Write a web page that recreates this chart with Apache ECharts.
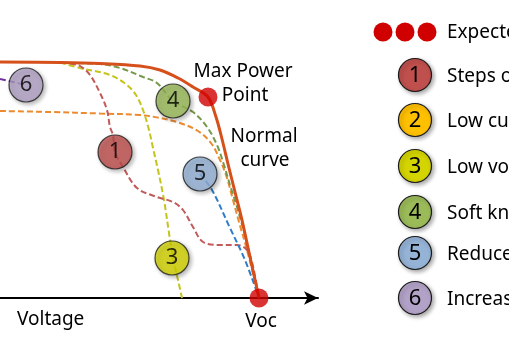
<!DOCTYPE html>
<html><head><meta charset="utf-8">
<script src="https://cdn.jsdelivr.net/npm/echarts@6/dist/echarts.min.js"></script>
<style>html,body{margin:0;padding:0;background:#fff}#c{width:509px;height:337px}</style>
</head><body><div id="c"></div>
<script>
// Voltage (x) / current (y) in arbitrary units
const normalX = [0,60,100,140,160,178,193,208,216,222,228,235,242,250,259];
const normalY = [236,235.5,234.5,232,228,220,211,201,181,159,134,106,78,41,0];
const stepsX = [70,80,90,100,107,110,113,115,123,137,157,173,183,193,203,220,237,247,252,259];
const stepsY = [234.5,232,223,205,188,171,163,146,131,110,101,96,88,71,56,53,53,48,36,0];
const lowCurX = [0,50,100,140,160,180,198,211,220,227,233,239,247,259];
const lowCurY = [187,186,184.5,183,180,175,167,155,138,120,98,76,48,0];
const lowVoltX = [60,80,110,127,136,143,149,153,158,164,169,173,178,182];
const lowVoltY = [235.5,230,223,213,203,188,168,150,128,98,65,40,18,0];
const softKneeX = [60,100,120,143,157,173,193,207,217,224,230,237,246,259];
const softKneeY = [235,234,230,221,215,197,186,171,153,133,113,91,58,0];
const slopeX = [200,212,230,245,259];
const slopeY = [124,108,70,38,0];
const incSlopeX = [0,26];
const incSlopeY = [219,213];
const markerNums = ['6','4','1','5','3'];
const markerX = [26,173,115,200,172];
const markerY = [213,197,146,124,40];
const expectedX = [208,259];
const expectedY = [201,0];
const legendNums = ['1','2','3','4','5','6'];
const legendTexts = ['Steps or notches','Low current','Low voltage','Soft knee','Reduced slope','Increased slope'];
const expectedText = 'Expected values';

const fillColors = {'1':'#c0504d','2':'#ffc000','3':'#d4d400','4':'#9bbb59','5':'#95b3d7','6':'#b3a2c7'};
const FONT = '"Noto Sans", "DejaVu Sans", sans-serif';
const zip = (xs, ys) => xs.map((x,i)=>[x, ys[i]]);
const shadow = {shadowBlur:4, shadowOffsetX:2, shadowOffsetY:2, shadowColor:'rgba(0,0,0,0.35)'};

function dashed(name, xs, ys, color){
  return {type:'line', name, data: zip(xs,ys), smooth:0.35, symbol:'none', z:2,
    lineStyle:{color, width:2, type:[6,3]}};
}

const series = [
  dashed('Increased slope', incSlopeX, incSlopeY, '#7030a0'),
  dashed('Low current', lowCurX, lowCurY, '#ec8a2e'),
  dashed('Low voltage', lowVoltX, lowVoltY, '#c4c41c'),
  dashed('Soft knee', softKneeX, softKneeY, '#76984a'),
  dashed('Steps', stepsX, stepsY, '#c25a5a'),
  dashed('Reduced slope', slopeX, slopeY, '#2f7cc8'),
  {type:'line', name:'Normal', data: zip(normalX, normalY), smooth:0.35, symbol:'none', z:3,
    lineStyle:{color:'#d6501c', width:3}},
  {type:'scatter', name:'markers', z:5, symbolSize:34,
    data: markerNums.map((n,i)=>({value:[markerX[i], markerY[i]], itemStyle:{color:fillColors[n]}, label:{formatter:n}})),
    itemStyle:Object.assign({borderColor:'#1a1a1a', borderWidth:1.2}, shadow),
    label:{show:true, position:'inside', color:'#000', fontSize:22, fontFamily:FONT}},
  {type:'scatter', name:'expected', z:6, symbolSize:19, data: zip(expectedX, expectedY),
    itemStyle:{color:'#d10000'}}
];

const graphic = [];
const txt = (x,y,text,size,align) => ({type:'text', x, y, style:{text, font:size+'px '+FONT, fill:'#000', textAlign:align||'left', textVerticalAlign:'middle'}});
graphic.push(txt(243,72,'Max Power',19,'center'));
graphic.push(txt(245,96,'Point',19,'center'));
graphic.push(txt(264,137,'Normal',19,'center'));
graphic.push(txt(265,161,'curve',19,'center'));
graphic.push(txt(17,320,'Voltage',19,'left'));
graphic.push(txt(261,322,'Voc',19,'center'));
// legend
[383,405,427].forEach(cx=>graphic.push({type:'circle', shape:{cx, cy:32, r:9.5}, style:{fill:'#d10000'}}));
graphic.push(txt(447,33,expectedText,19,'left'));
const legY = [75,120,166,212,253,298];
legendNums.forEach((n,i)=>{
  graphic.push({type:'circle', shape:{cx:415, cy:legY[i], r:16.5}, style:Object.assign({fill:fillColors[n], stroke:'#1a1a1a', lineWidth:1.2}, shadow)});
  graphic.push({type:'text', x:415, y:legY[i]+1, style:{text:n, font:'22px '+FONT, fill:'#000', textAlign:'center', textVerticalAlign:'middle'}});
  graphic.push(txt(447, legY[i]+2, legendTexts[i], 19, 'left'));
});

const chart = echarts.init(document.getElementById('c'), null, {renderer:'canvas'});
chart.setOption({
  animation:false,
  grid:{left:0, top:0, width:318, height:298},
  xAxis:{type:'value', min:0, max:318, axisLine:{show:true, lineStyle:{color:'#000', width:2}, symbol:['none','arrow'], symbolSize:[10,14]},
    axisTick:{show:false}, axisLabel:{show:false}, splitLine:{show:false}},
  yAxis:{type:'value', min:0, max:298, show:false},
  series, graphic
});
</script></body></html>
